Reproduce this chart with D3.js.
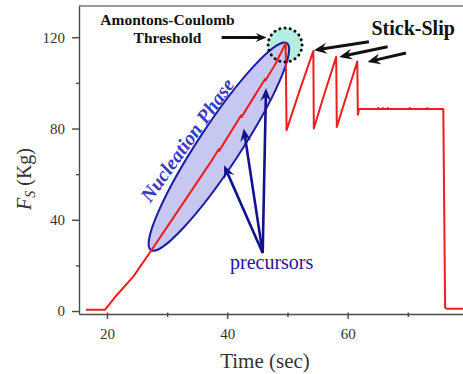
<!DOCTYPE html>
<html>
<head>
<meta charset="utf-8">
<script src="https://cdn.jsdelivr.net/npm/d3@7"></script>
<style>
  body { margin: 0; background: #fff; }
  svg { display: block; font-family: "Liberation Serif", "Times New Roman", serif; }
  svg .tick text { font-family: "Liberation Serif", "Times New Roman", serif; }
</style>
</head>
<body>
<svg id="chart" width="463" height="374"></svg>
<script>
// Static friction force vs. time: loading ramp, threshold, stick-slip, release
const time = [16.5, 19.7, 21.5, 24.4, 27.3, 29.5, 32.1, 35.0, 37.1,
  38.6, 38.65, 40.0, 42.3, 42.35, 44.0, 46.3, 46.35, 48.0, 49.7,
  49.85, 52.0, 54.3, 54.38, 56.0, 58.1, 58.2, 60.0, 61.6, 61.7, 61.9,
  65.0, 65.05, 65.1, 65.8, 65.85, 65.9, 66.6, 66.65, 66.7,
  70.3, 70.35, 70.4, 73.2, 73.25, 73.3, 75.9, 76.2, 76.5, 79.34];
const force = [0.6, 0.6, 6.6, 15.2, 26.3, 34.9, 45.1, 56.5, 64.7,
  71.0, 70.2, 76.0, 85.8, 85.0, 92.0, 101.8, 101.0, 108.3, 117.4,
  79.3, 96.5, 114.0, 80.0, 94.0, 111.4, 80.7, 95.9, 109.4, 86.0, 88.6,
  88.6, 89.0, 88.6, 88.6, 89.0, 88.6, 88.6, 89.0, 88.6,
  88.6, 89.0, 88.6, 88.6, 88.9, 88.6, 88.6, 1.5, 1.0, 1.0];

const xMajor = [20, 40, 60];
const xMinor = [30, 50, 70];
const yMajor = [0, 40, 80, 120];
const yMinor = [20, 60, 100];

// annotation anchors, in data units [time, force]
const thresholdPeak = [49.6, 116.6];
const nucleationEnds = [[27.3, 26.7], [49.9, 117.4]];
const precursorFrom = [45.88, 25.4];
const precursorTips = [[39.45, 63.9], [42.73, 80.0], [46.43, 97.7]];
const thresholdArrow = [[39.06, 119.9], [46.54, 119.9]];
const stickSlipArrows = [
  [[63.54, 118.0], [54.4, 114.3]],
  [[66.64, 115.8], [58.6, 111.4]],
  [[69.7, 113.1], [63.3, 109.2]]
];

const svg = d3.select('#chart');
const x = d3.scaleLinear().domain([15.35, 79.34]).range([79, 464]);
const y = d3.scaleLinear().domain([-1.3, 133.7]).range([314, 6]);

const axisColor = '#4a4a4a';
const textColor = '#333';
const serif = '"Liberation Serif", "Times New Roman", serif';

// frame top edge
svg.append('line')
  .attr('x1', x.range()[0]).attr('x2', x.range()[1])
  .attr('y1', y.range()[1]).attr('y2', y.range()[1])
  .attr('stroke', '#777').attr('stroke-width', 1.3);

// axes
const gx = svg.append('g').attr('transform', `translate(0,${y.range()[0]})`);
gx.call(d3.axisBottom(x).tickValues(xMajor).tickSize(5).tickSizeOuter(0).tickPadding(9).tickFormat(d3.format('d')));
const gxm = svg.append('g').attr('transform', `translate(0,${y.range()[0]})`);
gxm.call(d3.axisBottom(x).tickValues(xMinor).tickSize(3).tickSizeOuter(0).tickFormat(''));
gxm.select('.domain').remove();

const gy = svg.append('g').attr('transform', `translate(${x.range()[0]},0)`);
gy.call(d3.axisLeft(y).tickValues(yMajor).tickSize(7).tickSizeOuter(0).tickPadding(7).tickFormat(d3.format('d')));
const gym = svg.append('g').attr('transform', `translate(${x.range()[0]},0)`);
gym.call(d3.axisLeft(y).tickValues(yMinor).tickSize(3).tickSizeOuter(0).tickFormat(''));
gym.select('.domain').remove();

svg.selectAll('g').attr('font-family', serif);
svg.selectAll('.domain, .tick line').attr('stroke', axisColor).attr('stroke-width', 1.4);
// ticks poke slightly inside the x axis as well
svg.selectAll('.tick line').filter(function () { return this.getAttribute('y2'); })
  .attr('y1', -1.5);
svg.selectAll('.tick text')
  .style('font-family', serif)
  .attr('font-size', 15).attr('fill', textColor);

// axis titles
svg.append('text')
  .attr('x', 265).attr('y', 368)
  .attr('text-anchor', 'middle')
  .attr('font-size', 21).attr('fill', textColor)
  .text('Time (sec)');

const yTitle = svg.append('text')
  .attr('transform', 'translate(31,179) rotate(-90)')
  .attr('text-anchor', 'middle')
  .attr('font-size', 20).attr('fill', textColor);
yTitle.append('tspan').attr('font-style', 'italic').text('F');
yTitle.append('tspan').attr('font-style', 'italic').attr('font-size', 14).attr('dy', 4).text('S');
yTitle.append('tspan').attr('dy', -4).text(' (Kg)');

// threshold marker fill
const [cx, cy] = [x(thresholdPeak[0]), y(thresholdPeak[1])];
svg.append('circle')
  .attr('cx', cx).attr('cy', cy).attr('r', 17)
  .attr('fill', '#b4eee2');

// nucleation ellipse
const p0 = [x(nucleationEnds[0][0]), y(nucleationEnds[0][1])];
const p1 = [x(nucleationEnds[1][0]), y(nucleationEnds[1][1])];
const ecx = (p0[0] + p1[0]) / 2, ecy = (p0[1] + p1[1]) / 2;
const erx = Math.hypot(p1[0] - p0[0], p1[1] - p0[1]) / 2;
const eang = Math.atan2(p1[1] - p0[1], p1[0] - p0[0]) * 180 / Math.PI;
svg.append('ellipse')
  .attr('transform', `translate(${ecx},${ecy}) rotate(${eang})`)
  .attr('rx', erx).attr('ry', 21)
  .attr('fill', '#c6c8f2')
  .attr('stroke', '#1c1ca0').attr('stroke-width', 2);

// force trace
const series = time.map((t, i) => [t, force[i]]);
svg.append('path')
  .datum(series)
  .attr('fill', 'none')
  .attr('stroke', '#f21c1c')
  .attr('stroke-width', 2)
  .attr('stroke-linejoin', 'round')
  .attr('d', d3.line().x(d => x(d[0])).y(d => y(d[1])));

// dotted outline of the threshold marker
svg.append('circle')
  .attr('cx', cx).attr('cy', cy).attr('r', 17)
  .attr('fill', 'none')
  .attr('stroke', '#111').attr('stroke-width', 3)
  .attr('stroke-dasharray', '0.1 5.2').attr('stroke-linecap', 'round');

// arrow helper: shaft plus swept-back head, in pixel space
function arrow(from, to, color, width, headLen, headHalf) {
  const a = [x(from[0]), y(from[1])];
  const b = [x(to[0]), y(to[1])];
  const ang = Math.atan2(b[1] - a[1], b[0] - a[0]);
  const ux = Math.cos(ang), uy = Math.sin(ang);
  const end = [b[0] - ux * headLen * 0.6, b[1] - uy * headLen * 0.6];
  svg.append('line')
    .attr('x1', a[0]).attr('y1', a[1]).attr('x2', end[0]).attr('y2', end[1])
    .attr('stroke', color).attr('stroke-width', width);
  const base = [b[0] - ux * headLen, b[1] - uy * headLen];
  const notch = [b[0] - ux * headLen * 0.65, b[1] - uy * headLen * 0.65];
  const pts = [
    b,
    [base[0] - uy * headHalf, base[1] + ux * headHalf],
    notch,
    [base[0] + uy * headHalf, base[1] - ux * headHalf]
  ];
  svg.append('path')
    .attr('d', 'M' + pts.map(p => p.join(',')).join('L') + 'Z')
    .attr('fill', color);
}

arrow(thresholdArrow[0], thresholdArrow[1], '#111', 3, 11, 4.5);
stickSlipArrows.forEach(([f, t]) => arrow(f, t, '#111', 3, 13, 5.5));
precursorTips.forEach(t => arrow(precursorFrom, t, '#12128c', 2.6, 13, 5.5));

// labels
svg.append('text')
  .attr('x', 167.5).attr('y', 25)
  .attr('text-anchor', 'middle')
  .attr('font-size', 15.5).attr('font-weight', 'bold').attr('fill', '#111')
  .text('Amontons-Coulomb');
svg.append('text')
  .attr('x', 167.5).attr('y', 43)
  .attr('text-anchor', 'middle')
  .attr('font-size', 15.5).attr('font-weight', 'bold').attr('fill', '#111')
  .text('Threshold');
svg.append('text')
  .attr('x', 371.5).attr('y', 35)
  .attr('font-size', 20).attr('font-weight', 'bold').attr('fill', '#111')
  .text('Stick-Slip');
svg.append('text')
  .attr('x', 230).attr('y', 269)
  .attr('font-size', 20).attr('fill', '#1a1a9a')
  .text('precursors');
svg.append('text')
  .attr('transform', 'translate(187,140) rotate(-54.5)')
  .attr('text-anchor', 'middle')
  .attr('dominant-baseline', 'central')
  .attr('font-size', 20).attr('font-weight', 'bold').attr('font-style', 'italic')
  .attr('fill', '#3a3ac4')
  .text('Nucleation Phase');
</script>
</body>
</html>
